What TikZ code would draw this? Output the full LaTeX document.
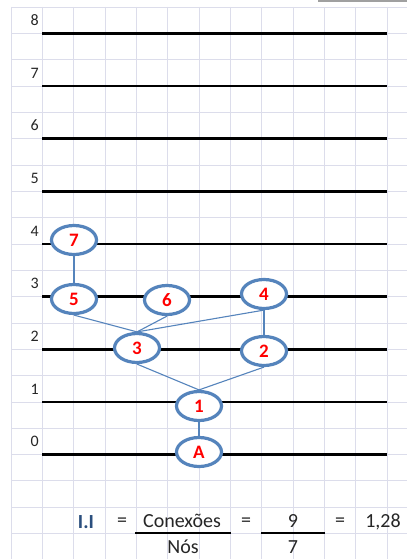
\documentclass[tikz,border=0pt]{standalone}
\usepackage{fontspec}
\setmainfont{Carlito}
\usepackage{tikz}
\usetikzlibrary{shapes.geometric}
\definecolor{gridgray}{HTML}{DCDDEB}
\definecolor{nodeblue}{HTML}{5584BC}
\definecolor{numred}{HTML}{FF0000}
\definecolor{labelgray}{HTML}{262626}
\definecolor{navy}{HTML}{2B4F7E}
\definecolor{topgray}{HTML}{A0A0A0}
\pgfdeclarelayer{sheet}
\pgfdeclarelayer{links}
\pgfsetlayers{sheet,links,main}

\begin{document}
\begin{tikzpicture}[x=1pt,y=-1pt,
  level/.style={line width=2.8pt,black},
  gridline/.style={line width=0.9pt,gridgray},
  lvlnum/.style={anchor=east,font=\fontsize{16}{16}\selectfont,text=labelgray,inner sep=0pt},
  nodo/.style={ellipse,draw=nodeblue,line width=3.2pt,fill=white,minimum width=45pt,minimum height=29pt,
    inner sep=0pt,text=numred,font=\fontsize{19}{19}\selectfont\bfseries},
  link/.style={nodeblue,line width=1.1pt},
  formula/.style={font=\fontsize{20}{20}\selectfont,inner sep=0pt,text=labelgray},
  fracline/.style={line width=2.2pt,black}
]
  \useasboundingbox (0,0) rectangle (407,559);
  \begin{pgfonlayer}{sheet}
  \fill[white] (0,0) rectangle (407,559);
  % spreadsheet grid
  \foreach \k in {0,...,12} \draw[gridline] ({11+31.33*\k},7) -- ({11+31.33*\k},559);
  \foreach \k in {0,...,20} \draw[gridline] (11,{7+26.33*\k}) -- (407,{7+26.33*\k});
  \draw[topgray,line width=1.5pt] (318,1) -- (407,1);
  % levels
  \foreach \l in {0,...,8} {
    \draw[level] (42,{7+26.33*(17-2*\l)}) -- (387,{7+26.33*(17-2*\l)});
    \node[lvlnum] (lab\l) at (39,{7+26.33*(17-2*\l)-13}) {\l};
  }
  \end{pgfonlayer}
  % nodes
  \node[nodo] (nA) at (199,452) {A};
  \node[nodo] (n1) at (199,406) {1};
  \node[nodo] (n3) at (137,348) {3};
  \node[nodo] (n2) at (264,351) {2};
  \node[nodo] (n5) at (74,299) {5};
  \node[nodo] (n6) at (167,300) {6};
  \node[nodo] (n4) at (264,294) {4};
  \node[nodo] (n7) at (74,240) {7};
  % connections
  \begin{pgfonlayer}{links}
  \draw[link] (n7.south) -- (n5.north);
  \draw[link] (n5.south) -- (n3.north);
  \draw[link] (n6.south) -- (n3.north);
  \draw[link] (n4.south) -- (n3.north);
  \draw[link] (n4.south) -- (n2.north);
  \draw[link] (n3.south) -- (n1.north);
  \draw[link] (n2.south) -- (n1.north);
  \draw[link] (n1.south) -- (nA.north);
  \end{pgfonlayer}
  % index
  \node[formula,text=navy,font=\fontsize{20}{20}\selectfont\bfseries] (ii) at (86,522) {I.I};
  \node[formula] (eq1) at (122,522) {=};
  \node[formula] (con) at (182,521) {Conexões};
  \node[formula] (nos) at (183,547) {Nós};
  \node[formula] (eq2) at (246,522) {=};
  \node[formula] (nove) at (293,521) {9};
  \node[formula] (sete) at (293,547) {7};
  \node[formula] (eq3) at (340,522) {=};
  \node[formula] (res) at (383,522) {1,28};
  \draw[fracline] (135,533) -- (231,533);
  \draw[fracline] (261,533) -- (325,533);
\end{tikzpicture}
\end{document}
